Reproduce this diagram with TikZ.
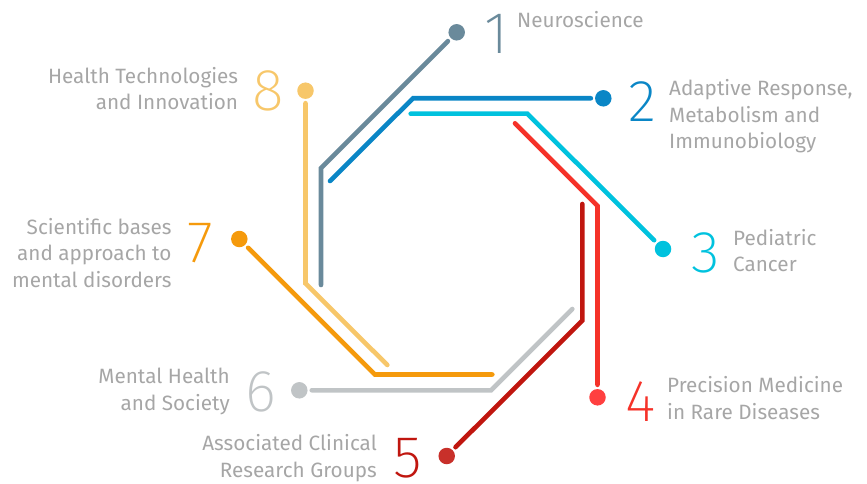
\documentclass[tikz,border=0pt]{standalone}
\usepackage{fontspec}
\setmainfont{Fira Sans}
\newfontfamily\numfont{Fira Sans ExtraLight}
\definecolor{cA}{HTML}{6A8A9B}
\definecolor{cB}{HTML}{0A86C6}
\definecolor{cC}{HTML}{00C2DE}
\definecolor{cD}{HTML}{F53229}
\definecolor{cDd}{HTML}{FF4040}
\definecolor{cE}{HTML}{C0160F}
\definecolor{cEd}{HTML}{C8302A}
\definecolor{cF}{HTML}{C0C4C6}
\definecolor{cG}{HTML}{F59A0C}
\definecolor{cH}{HTML}{F7C76A}
\definecolor{txt}{HTML}{A6A6A6}
\tikzset{
  track/.style={line width=4.6pt, line cap=round, line join=miter},
  dot/.style={circle, fill=#1, inner sep=0pt, minimum size=16.5pt, outer sep=4.2pt},
  num/.style={text=#1, inner sep=0pt, font=\numfont\fontsize{59}{59}\selectfont},
  lbl/.style={text=txt, inner sep=0pt, font=\fontsize{20.7}{26.6}\selectfont},
}
\begin{document}
\begin{tikzpicture}[x=1pt,y=-1pt]
\useasboundingbox (0,0) rectangle (867,484);
% dots
\node[dot=cA] (d1) at (456.7,32.3) {};
\node[dot=cB] (d2) at (603.3,98.3) {};
\node[dot=cC] (d3) at (663,249) {};
\node[dot=cDd] (d4) at (597.5,397.3) {};
\node[dot=cEd] (d5) at (446.7,456) {};
\node[dot=cF] (d6) at (299.3,390.3) {};
\node[dot=cG] (d7) at (239.3,239) {};
\node[dot=cH] (d8) at (305.5,90.7) {};
% bends and ends
\coordinate (e1) at (321,285);   \coordinate (b1) at (321,168);
\coordinate (e2) at (330,181);   \coordinate (b2) at (413,98.3);
\coordinate (e3) at (410.7,113.7); \coordinate (b3) at (527.3,113.7);
\coordinate (e4) at (515,123.3); \coordinate (b4) at (597.5,205.8);
\coordinate (e5) at (582.3,204); \coordinate (b5) at (582.3,320.6);
\coordinate (e6) at (572.3,309); \coordinate (b6) at (491,390.3);
\coordinate (e7) at (492.3,374.5); \coordinate (b7) at (374.8,374.5);
\coordinate (e8) at (387.3,365); \coordinate (b8) at (305.5,283.5);
% tracks
\draw[track, cH] (e8) -- (b8) -- (d8);
\draw[track, cG] (e7) -- (b7) -- (d7);
\draw[track, cF] (e6) -- (b6) -- (d6);
\draw[track, cE] (e5) -- (b5) -- (d5);
\draw[track, cD] (e4) -- (b4) -- (d4);
\draw[track, cC] (e3) -- (b3) -- (d3);
\draw[track, cB] (e2) -- (b2) -- (d2);
\draw[track, cA] (e1) -- (b1) -- (d1);
% numbers
\node[num=cA, anchor=base west] (n1) at (484,54) {1};
\node[num=cB, anchor=base west] (n2) at (628,122) {2};
\node[num=cC, anchor=base west] (n3) at (691,272) {3};
\node[num=cD, anchor=base west] (n4) at (625,421) {4};
\node[num=cE, anchor=base west] (n5) at (393,477) {5};
\node[num=cF, anchor=base west] (n6) at (245,411) {6};
\node[num=cG, anchor=base west] (n7) at (187,262) {7};
\node[num=cH, anchor=base west] (n8) at (252,111) {8};
% labels (anchor at last line's baseline)
\node[lbl, anchor=base west, align=left] (t1) at (517,28) {Neuroscience};
\node[lbl, anchor=base west, align=left] (t2) at (669,149) {Adaptive Response,\\Metabolism and\\Immunobiology};
\node[lbl, anchor=base west, align=left] (t3) at (733,271.7) {Pediatric\\Cancer};
\node[lbl, anchor=base west, align=left] (t4) at (667,419.3) {Precision Medicine\\in Rare Diseases};
\node[lbl, anchor=base east, align=right] (t5) at (377,477.3) {Associated Clinical\\Research Groups};
\node[lbl, anchor=base east, align=right] (t6) at (230,410) {Mental Health\\and Society};
\node[lbl, anchor=base east, align=right] (t7) at (171.7,287.3) {Scientific bases\\and approach to\\mental disorders};
\node[lbl, anchor=base east, align=right] (t8) at (238.3,110) {Health Technologies\\and Innovation};
\end{tikzpicture}
\end{document}
